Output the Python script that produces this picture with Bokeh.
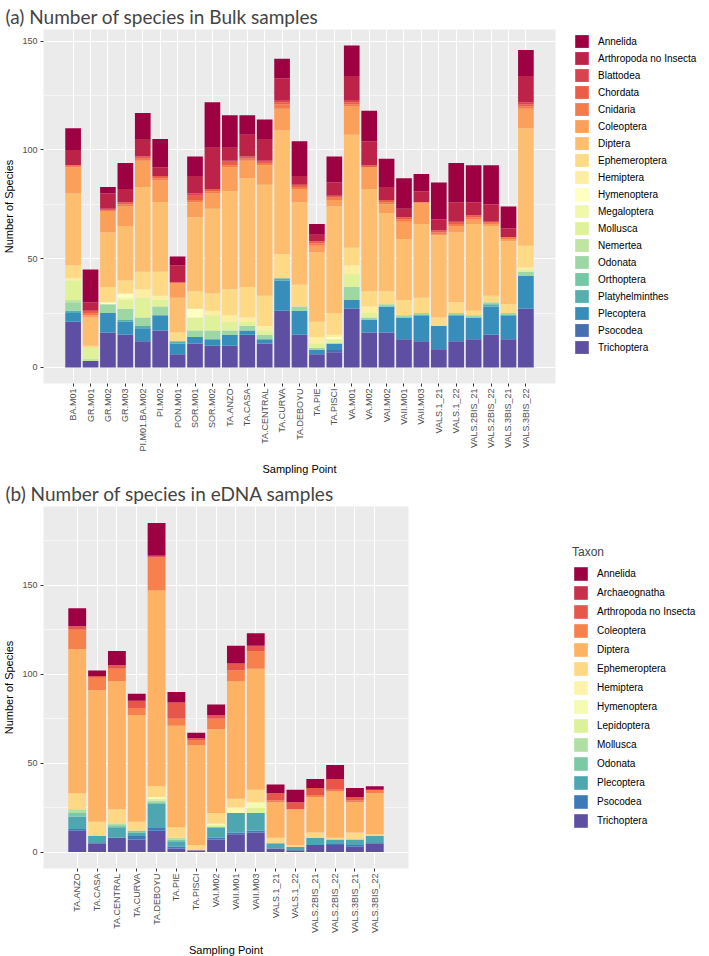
import numpy as np
from bokeh.plotting import figure
from bokeh.models import (ColumnDataSource, FactorRange, Range1d, FixedTicker,
                          Legend, LegendItem)
from bokeh.layouts import column
from bokeh.embed import file_html
from bokeh.resources import INLINE

# ---------------- Bulk samples (panel a) ----------------
bulk_sites = ["BA.M01", "GR.M01", "GR.M02", "GR.M03", "PI.M01.BA.M02", "PI.M02", "PON.M01",
              "SOR.M01", "SOR.M02", "TA.ANZO", "TA.CASA", "TA.CENTRAL", "TA.CURVA", "TA.DEBOYU",
              "TA.PIE", "TA.PISCI", "VA.M01", "VA.M02", "VAI.M02", "VAII.M01", "VAII.M03",
              "VALS.1_21", "VALS.1_22", "VALS.2BIS_21", "VALS.2BIS_22", "VALS.3BIS_21", "VALS.3BIS_22"]
bulk_taxa = ["Annelida", "Arthropoda no Insecta", "Blattodea", "Chordata", "Cnidaria", "Coleoptera",
             "Diptera", "Ephemeroptera", "Hemiptera", "Hymenoptera", "Megaloptera", "Mollusca",
             "Nemertea", "Odonata", "Orthoptera", "Platyhelminthes", "Plecoptera", "Psocodea",
             "Trichoptera"]
bulk_annelida = [10, 15, 3, 12, 12, 13, 4, 9, 21, 15, 9, 9, 9, 16, 5, 12, 14, 14, 13, 14, 8, 17, 18, 17, 18, 10, 12]
bulk_arthropoda = [7, 4, 7, 6, 8, 4, 8, 8, 19, 6, 10, 10, 10, 4, 3, 6, 11, 11, 6, 4, 5, 5, 9, 6, 8, 4, 12]
bulk_blattodea = [0, 0, 0, 0, 0, 0, 0, 1, 0, 0, 0, 0, 1, 0, 0, 0, 1, 0, 0, 0, 0, 0, 0, 0, 0, 0, 1]
bulk_chordata = [0, 1, 1, 1, 1, 1, 0, 2, 1, 2, 1, 1, 1, 1, 1, 1, 1, 1, 1, 1, 0, 1, 1, 1, 0, 0, 1]
bulk_cnidaria = [1, 1, 0, 1, 1, 1, 0, 1, 1, 1, 1, 1, 2, 1, 1, 1, 1, 0, 1, 1, 0, 1, 1, 1, 1, 1, 1]
bulk_coleoptera = [12, 1, 10, 9, 12, 10, 7, 7, 7, 11, 8, 9, 10, 6, 3, 3, 13, 10, 4, 8, 10, 0, 3, 2, 1, 1, 9]
bulk_diptera = [33, 13, 25, 25, 39, 32, 16, 34, 39, 45, 50, 51, 57, 38, 32, 49, 52, 47, 36, 28, 34, 38, 32, 40, 32, 29, 54]
bulk_ephemeroptera = [6, 1, 7, 6, 8, 11, 4, 8, 8, 12, 14, 14, 11, 10, 7, 10, 8, 7, 6, 7, 7, 4, 5, 2, 3, 4, 10]
bulk_hemiptera = [1, 0, 0, 0, 4, 2, 0, 0, 2, 3, 2, 2, 0, 0, 3, 1, 4, 3, 0, 0, 0, 0, 0, 0, 0, 0, 1]
bulk_hymenoptera = [0, 0, 1, 2, 0, 0, 0, 4, 0, 0, 0, 0, 0, 0, 0, 1, 0, 0, 0, 0, 0, 0, 0, 0, 0, 0, 0]
bulk_megaloptera = [0, 0, 0, 1, 0, 0, 0, 0, 0, 0, 0, 0, 0, 0, 0, 0, 0, 0, 0, 0, 0, 0, 0, 0, 0, 0, 0]
bulk_mollusca = [9, 5, 0, 4, 9, 3, 0, 6, 7, 4, 2, 2, 0, 0, 2, 2, 6, 2, 0, 0, 0, 0, 0, 0, 0, 0, 1]
bulk_nemertea = [1, 1, 0, 0, 0, 0, 0, 0, 0, 0, 0, 0, 0, 0, 0, 0, 0, 0, 0, 0, 0, 0, 0, 0, 0, 0, 0]
bulk_odonata = [4, 0, 4, 5, 4, 4, 0, 3, 4, 2, 2, 2, 0, 2, 1, 0, 6, 1, 1, 1, 1, 0, 1, 1, 1, 1, 2]
bulk_orthoptera = [0] * 27
bulk_platyhelminthes = [1, 0, 0, 1, 1, 0, 1, 0, 0, 0, 0, 0, 1, 0, 0, 0, 0, 0, 0, 0, 0, 0, 0, 0, 1, 0, 0]
bulk_plecoptera = [4, 0, 9, 6, 6, 7, 5, 3, 3, 5, 2, 2, 14, 11, 2, 3, 4, 6, 12, 10, 12, 11, 12, 10, 13, 11, 15]
bulk_psocodea = [0, 0, 0, 0, 0, 0, 0, 0, 0, 0, 0, 0, 0, 0, 0, 1, 0, 0, 0, 0, 0, 0, 0, 0, 0, 0, 0]
bulk_trichoptera = [21, 3, 16, 15, 12, 17, 6, 11, 10, 10, 15, 11, 26, 15, 6, 7, 27, 16, 16, 13, 12, 8, 12, 13, 15, 13, 27]

bulk_values = dict(zip(bulk_taxa, [
    bulk_annelida, bulk_arthropoda, bulk_blattodea, bulk_chordata, bulk_cnidaria, bulk_coleoptera,
    bulk_diptera, bulk_ephemeroptera, bulk_hemiptera, bulk_hymenoptera, bulk_megaloptera,
    bulk_mollusca, bulk_nemertea, bulk_odonata, bulk_orthoptera, bulk_platyhelminthes,
    bulk_plecoptera, bulk_psocodea, bulk_trichoptera]))

# ---------------- eDNA samples (panel b) ----------------
edna_sites = ["TA.ANZO", "TA.CASA", "TA.CENTRAL", "TA.CURVA", "TA.DEBOYU", "TA.PIE", "TA.PISCI",
              "VAI.M02", "VAII.M01", "VAII.M03", "VALS.1_21", "VALS.1_22", "VALS.2BIS_21",
              "VALS.2BIS_22", "VALS.3BIS_21", "VALS.3BIS_22"]
edna_taxa = ["Annelida", "Archaeognatha", "Arthropoda no Insecta", "Coleoptera", "Diptera",
             "Ephemeroptera", "Hemiptera", "Hymenoptera", "Lepidoptera", "Mollusca", "Odonata",
             "Plecoptera", "Psocodea", "Trichoptera"]
edna_annelida = [10, 3, 8, 4, 18, 6, 3, 6, 10, 7, 5, 7, 5, 8, 5, 2]
edna_archaeognatha = [0, 0, 0, 0, 1, 0, 0, 0, 0, 0, 0, 0, 0, 0, 0, 0]
edna_arthropoda = [2, 1, 2, 4, 0, 9, 1, 2, 4, 3, 4, 4, 4, 6, 2, 0]
edna_coleoptera = [11, 7, 7, 4, 19, 4, 3, 6, 6, 10, 1, 0, 1, 1, 1, 2]
edna_diptera = [81, 74, 72, 60, 110, 57, 56, 47, 66, 68, 20, 20, 20, 26, 17, 23]
edna_ephemeroptera = [9, 8, 8, 5, 6, 6, 3, 6, 5, 7, 3, 1, 3, 1, 4, 1]
edna_hemiptera = [0, 0, 0, 0, 0, 0, 0, 0, 1, 0, 0, 0, 0, 0, 0, 0]
edna_hymenoptera = [0, 0, 0, 0, 1, 0, 0, 1, 2, 3, 0, 0, 0, 0, 0, 0]
edna_lepidoptera = [0, 0, 0, 0, 1, 0, 0, 1, 0, 3, 0, 0, 0, 0, 0, 0]
edna_mollusca = [2, 0, 1, 0, 1, 1, 0, 0, 0, 0, 0, 0, 0, 0, 0, 0]
edna_odonata = [2, 0, 1, 1, 1, 1, 0, 0, 0, 0, 0, 0, 0, 0, 0, 0]
edna_plecoptera = [7, 4, 6, 2, 13, 3, 0, 6, 11, 10, 3, 2, 4, 2, 3, 4]
edna_psocodea = [1, 0, 0, 2, 2, 1, 0, 1, 1, 1, 0, 0, 0, 1, 1, 0]
edna_trichoptera = [12, 5, 8, 7, 12, 2, 1, 7, 10, 11, 2, 1, 4, 4, 3, 5]

edna_values = dict(zip(edna_taxa, [
    edna_annelida, edna_archaeognatha, edna_arthropoda, edna_coleoptera, edna_diptera,
    edna_ephemeroptera, edna_hemiptera, edna_hymenoptera, edna_lepidoptera, edna_mollusca,
    edna_odonata, edna_plecoptera, edna_psocodea, edna_trichoptera]))

y_ticks = [0, 50, 100, 150]

SPECTRAL = ["#9E0142", "#D53E4F", "#F46D43", "#FDAE61", "#FEE08B", "#FFFFBF",
            "#E6F598", "#ABDDA4", "#66C2A5", "#3288BD", "#5E4FA2"]


def ramp(n):
    rgb = np.array([[int(h[i:i + 2], 16) for i in (1, 3, 5)] for h in SPECTRAL], float)
    out = []
    for p in np.linspace(0, len(SPECTRAL) - 1, n):
        i = min(int(np.floor(p)), len(SPECTRAL) - 2)
        f = p - i
        c = rgb[i] * (1 - f) + rgb[i + 1] * f
        out.append("#%02X%02X%02X" % tuple(int(round(v)) for v in c))
    return out


def make_panel(sites, taxa, values, title, frame_w, frame_h, mb_right, mb_bottom, minor,
               leg_title, glyph_h, spacing, leg_margin, leg_loc):
    colors = ramp(len(taxa))
    data = {"site": sites}
    data.update(values)
    src = ColumnDataSource(data)
    ymax = max(sum(values[t][i] for t in taxa) for i in range(len(sites)))
    p = figure(x_range=FactorRange(factors=sites, range_padding=1.2, range_padding_units="absolute"),
               y_range=Range1d(-0.05 * ymax, 1.05 * ymax),
               frame_width=frame_w, frame_height=frame_h,
               min_border_left=40, min_border_right=mb_right,
               min_border_top=26, min_border_bottom=mb_bottom,
               output_backend="svg", toolbar_location=None,
               background_fill_color="#EBEBEB", border_fill_color="white",
               outline_line_color=None)
    order = taxa[::-1]
    rs = p.vbar_stack(order, x="site", width=0.9, color=colors[::-1], line_color=None, source=src)
    rmap = dict(zip(order, rs))

    ticker = FixedTicker(ticks=y_ticks, minor_ticks=minor)
    p.yaxis.ticker = ticker
    p.ygrid.ticker = ticker
    p.xgrid.grid_line_color = "white"
    p.xgrid.grid_line_width = 1.1
    p.ygrid.grid_line_color = "white"
    p.ygrid.grid_line_width = 1.1
    p.ygrid.minor_grid_line_color = "white"
    p.ygrid.minor_grid_line_width = 0.55

    p.xaxis.axis_label = "Sampling Point"
    p.yaxis.axis_label = "Number of Species"
    p.xaxis.major_label_orientation = np.pi / 2
    for ax in p.axis:
        ax.axis_line_color = None
        ax.major_tick_line_color = "#333333"
        ax.major_tick_out = 3
        ax.major_tick_in = 0
        ax.minor_tick_line_color = None
        ax.major_label_text_color = "#4D4D4D"
        ax.major_label_text_font = "Liberation Sans"
        ax.major_label_text_font_size = "9px"
        ax.major_label_standoff = 2
        ax.axis_label_text_font = "Liberation Sans"
        ax.axis_label_text_font_size = "11px"
        ax.axis_label_text_font_style = "normal"
        ax.axis_label_text_color = "black"
    p.xaxis.axis_label_standoff = 8
    p.yaxis.axis_label_standoff = 4

    p.title.text = title
    p.title.text_font = "Lato"
    p.title.text_font_size = "19px"
    p.title.text_font_style = "normal"
    p.title.align = "left"
    p.title.offset = -38
    p.title.standoff = 4

    items = [LegendItem(label=t, renderers=[rmap[t]]) for t in taxa]
    leg = Legend(items=items, location=leg_loc,
                 glyph_width=17, glyph_height=glyph_h, label_height=glyph_h,
                 spacing=spacing, padding=0, margin=leg_margin, border_line_color=None,
                 background_fill_color="white", background_fill_alpha=1.0,
                 label_text_font="Liberation Sans", label_text_font_size="10px",
                 label_standoff=8, label_text_color="black")
    if leg_title:
        leg.title = leg_title
        leg.title_text_font = "Liberation Sans"
        leg.title_text_font_size = "12px"
        leg.title_text_font_style = "normal"
        leg.title_standoff = 6
    p.add_layout(leg, "right")
    return p


pa = make_panel(bulk_sites, bulk_taxa, bulk_values, "(a)  Number of species in Bulk samples",
                512, 354, 0, 92, [25, 75, 125], None, 16, 1, 9, (18, 28))
pb = make_panel(edna_sites, edna_taxa, edna_values, "(b)  Number of species in eDNA samples",
                365, 362, 290, 84, [25, 75, 125, 175], "Taxon", 17, 2, 4, (164, 39))

layout = column(pa, pb)
open("out.html", "w").write(file_html(layout, INLINE, "Number of species"))
